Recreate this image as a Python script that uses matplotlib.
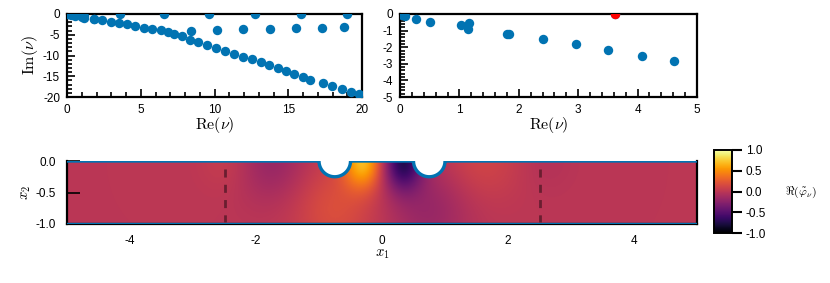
import numpy as np
import matplotlib
matplotlib.use("Agg")
import matplotlib.pyplot as plt
from matplotlib.path import Path
from matplotlib.patches import PathPatch
from matplotlib.ticker import MultipleLocator, FixedLocator

plt.rcParams['font.family'] = ['Liberation Sans', 'DejaVu Sans']
plt.rcParams['mathtext.fontset'] = 'cm'
plt.rcParams['axes.unicode_minus'] = False

# ---------------- data ----------------
# eigenvalues (Re, Im)
re_nu = [0.03, 0.08, 0.27, 0.51, 1.03, 1.17, 1.15, 1.80, 1.83, 2.40, 2.96, 3.51,
         4.07, 4.62, 5.20, 5.77, 6.34, 6.86, 7.27, 7.80, 8.34, 8.88, 9.47, 10.10,
         10.71, 11.32, 11.90, 12.52, 13.13, 13.72, 14.28, 14.85, 15.41, 15.98,
         16.47, 17.33, 17.99, 18.64, 19.25, 19.80,
         8.41, 10.15, 11.95, 13.73, 15.52, 17.31, 18.80,
         3.62, 6.56, 9.63, 12.74, 15.85, 18.96]
im_nu = [-0.05, -0.10, -0.30, -0.48, -0.68, -0.52, -0.92, -1.18, -1.22, -1.48, -1.82, -2.16,
         -2.50, -2.86, -3.30, -3.60, -3.90, -4.30, -4.70, -5.40, -6.20, -6.80, -7.50, -8.30,
         -9.00, -9.60, -10.30, -10.90, -11.60, -12.40, -13.00, -13.70, -14.50, -15.20,
         -16.00, -16.70, -17.40, -18.00, -18.70, -19.20,
         -4.10, -3.85, -3.70, -3.50, -3.45, -3.45, -3.10,
         -0.02, -0.02, -0.02, -0.02, -0.02, -0.02]
sel_re = [3.62]
sel_im = [-0.02]

# domain: strip [-5,5]x[-1,0] with two semicircular holes in top wall
hole_centers = [-0.75, 0.75]
hole_radius = 0.25
probe_x = [-2.5, 2.5]

# field blobs: (x, y, amplitude, sigma_x, sigma_y)
blob_x = [-0.30, 0.33, -0.75, 0.75, -1.75, 1.55, -2.45, 2.6]
blob_y = [0.0, 0.0, -0.75, -0.75, 0.0, 0.0, 0.0, 0.0]
blob_a = [0.66, -0.70, 0.18, -0.18, -0.18, 0.12, 0.07, -0.04]
blob_sx = [0.22, 0.22, 0.45, 0.45, 0.40, 0.45, 0.30, 0.3]
blob_sy = [0.30, 0.32, 0.55, 0.55, 0.45, 0.45, 0.35, 0.35]

blue = '#0173b2'
W, H = 830, 283
fig = plt.figure(figsize=(W / 100, H / 100), dpi=100)


def ax_px(l, t, r, b):
    return fig.add_axes([l / W, 1 - b / H, (r - l) / W, (b - t) / H])


def style_scatter_ax(ax, xmaj, xmin, ymaj, ymin):
    ax.xaxis.set_major_locator(MultipleLocator(xmaj))
    ax.xaxis.set_minor_locator(MultipleLocator(xmin))
    ax.yaxis.set_major_locator(MultipleLocator(ymaj))
    ax.yaxis.set_minor_locator(MultipleLocator(ymin))
    ax.tick_params(which='both', direction='in', top=False, right=False,
                   labelsize=8.5, width=1.2, pad=5)
    ax.tick_params(which='major', length=6)
    ax.tick_params(which='minor', length=3.5)
    for s in ax.spines.values():
        s.set_linewidth(1.6)


# ---- top-left
ax1 = ax_px(67, 14, 362, 97)
ax1.scatter(re_nu, im_nu, s=46, color=blue, zorder=3, linewidths=0)
ax1.set_xlim(0, 20)
ax1.set_ylim(-20, 0)
style_scatter_ax(ax1, 5, 1, 5, 1)
ax1.set_xlabel(r'$\mathrm{Re}(\nu)$', fontsize=11.5, labelpad=-1)
ax1.set_ylabel(r'$\mathrm{Im}(\nu)$', fontsize=11.5, labelpad=2)

# ---- top-right
ax2 = ax_px(400, 14, 697, 97)
ax2.scatter(re_nu, im_nu, s=46, color=blue, zorder=3, linewidths=0)
ax2.scatter(sel_re, sel_im, s=46, color='red', zorder=4, linewidths=0)
ax2.set_xlim(0, 5)
ax2.set_ylim(-5, 0)
style_scatter_ax(ax2, 1, 0.2, 1, 0.2)
ax2.set_xlabel(r'$\mathrm{Re}(\nu)$', fontsize=11.5, labelpad=-1)

# ---- field plot
ax3 = ax_px(67, 161, 697, 224)
xs = np.linspace(-5, 5, 1000)
ys = np.linspace(-1, 0, 120)
X, Y = np.meshgrid(xs, ys)
F = np.zeros_like(X)
for bx, by, ba, sx, sy in zip(blob_x, blob_y, blob_a, blob_sx, blob_sy):
    F += ba * np.exp(-((X - bx) / sx) ** 2 / 2 - ((Y - by) / sy) ** 2 / 2)

im = ax3.imshow(F, extent=[-5, 5, -1, 0], origin='lower', cmap='inferno',
                vmin=-1, vmax=1, aspect='equal', interpolation='bilinear')

# domain boundary path (top wall with holes)
top_x, top_y = [-5.0], [0.0]
for c in hole_centers:
    th = np.linspace(np.pi, 2 * np.pi, 60)
    top_x += list(c + hole_radius * np.cos(th))
    top_y += list(hole_radius * np.sin(th))
top_x.append(5.0)
top_y.append(0.0)
verts = list(zip(top_x, top_y)) + [(5.0, -1.0), (-5.0, -1.0), (-5.0, 0.0)]
clip = PathPatch(Path(verts), transform=ax3.transData, facecolor='none', edgecolor='none')
ax3.add_patch(clip)
im.set_clip_path(clip)

ax3.plot(top_x, top_y, color=blue, lw=2.4, solid_capstyle='butt', zorder=3)
ax3.plot([-5, 5], [-1, -1], color=blue, lw=2.4, zorder=3)
for px in probe_x:
    ax3.plot([px, px], [-0.13, -0.97], color='#6a1e30', lw=2.0,
             dashes=(2.9, 2.6), zorder=4)

ax3.set_xlim(-5, 5)
ax3.set_ylim(-1, 0)
ax3.spines['top'].set_visible(False)
for s in ['left', 'bottom', 'right']:
    ax3.spines[s].set_linewidth(1.6)
ax3.xaxis.set_major_locator(FixedLocator([-4, -2, 0, 2, 4]))
ax3.yaxis.set_major_locator(FixedLocator([-1.0, -0.5, 0.0]))
ax3.yaxis.set_major_formatter(matplotlib.ticker.FormatStrFormatter('%.1f'))
ax3.tick_params(axis='x', length=0, pad=8, labelsize=8.5)
ax3.tick_params(axis='y', direction='in', length=9, width=1.2, pad=8, labelsize=8.5)
ax3.set_xlabel(r'$x_1$', fontsize=10.5, labelpad=0)
ax3.set_ylabel(r'$x_2$', fontsize=10.5, labelpad=2)

# ---- colorbar
cax = ax_px(714, 150, 732, 233)
cb = fig.colorbar(im, cax=cax, ticks=[-1, -0.5, 0, 0.5, 1])
cb.ax.yaxis.set_major_formatter(matplotlib.ticker.FormatStrFormatter('%.1f'))
cb.ax.tick_params(direction='out', length=7, width=1.5, labelsize=8.5, pad=3)
cb.outline.set_linewidth(1.4)
fig.text(801 / W, 1 - 192 / H, r'$\Re(\tilde{\varphi}_\nu)$', ha='center',
         va='center', fontsize=8.5)

fig.savefig('out.png', dpi=100)
